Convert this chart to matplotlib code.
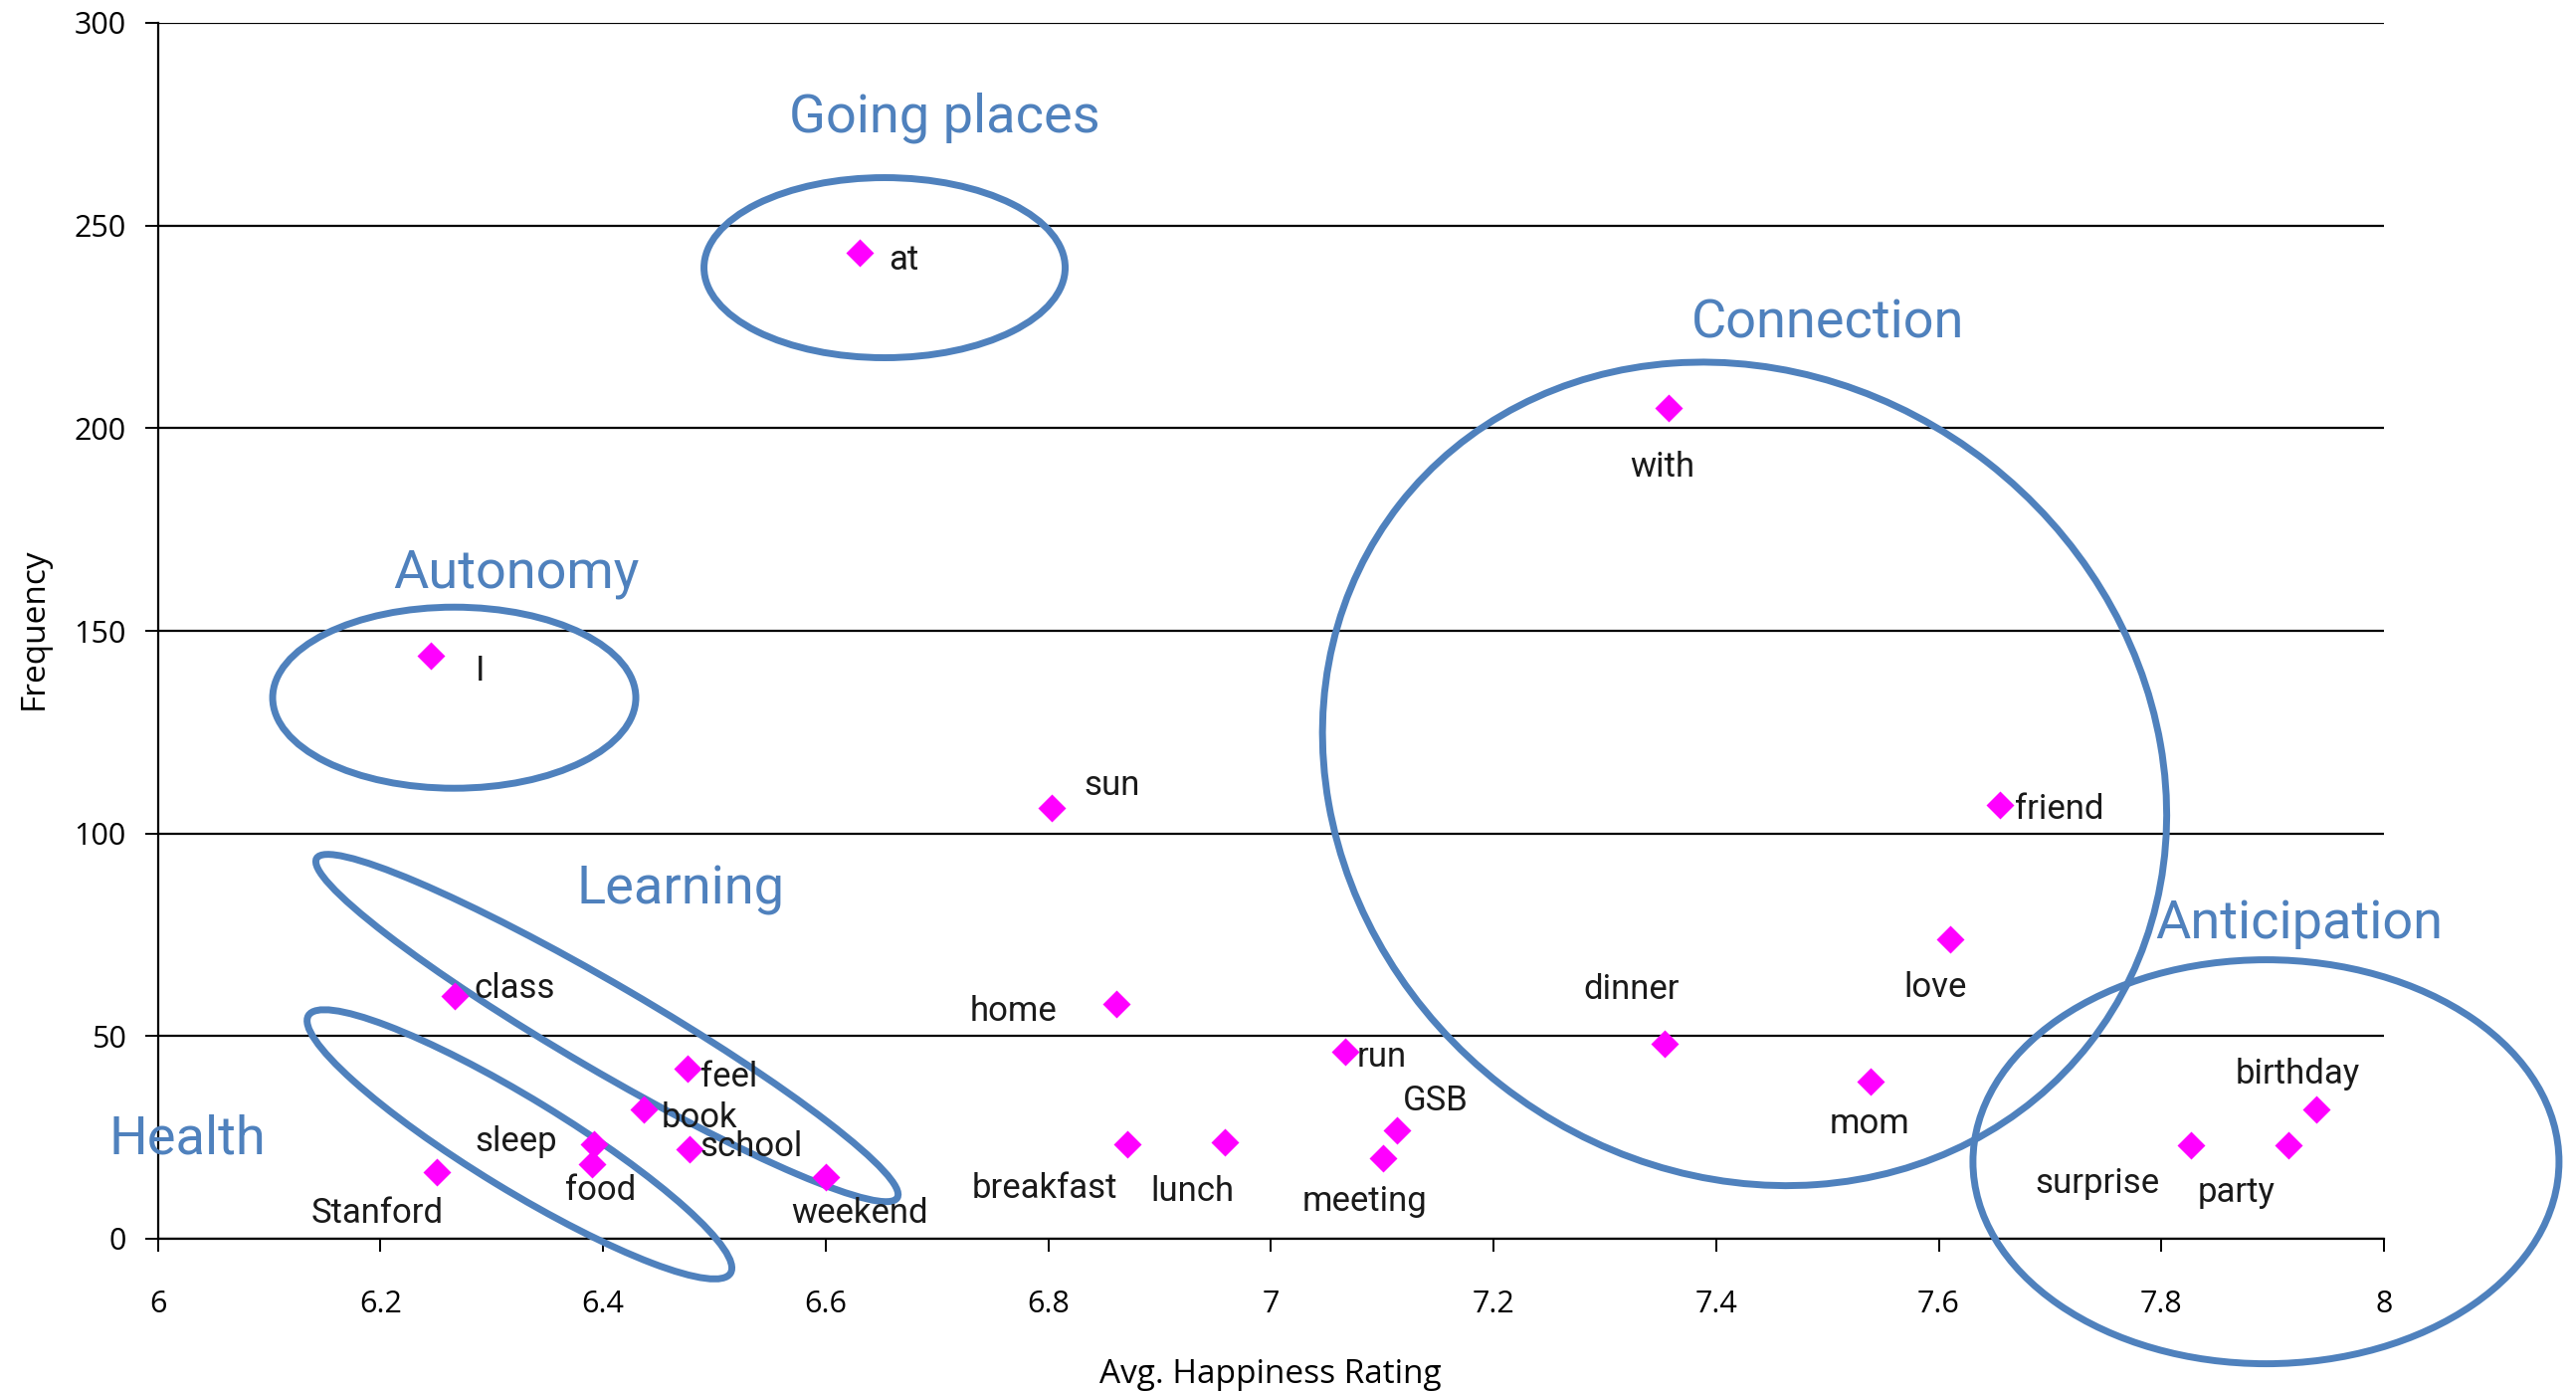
import matplotlib
matplotlib.use("Agg")
import matplotlib.pyplot as plt
import matplotlib.transforms as mtransforms
from matplotlib.patches import Ellipse

# ---------------- data ----------------
words = ["at", "I", "with", "sun", "friend", "love", "class", "home", "dinner",
         "run", "feel", "mom", "book", "birthday", "GSB", "lunch", "breakfast",
         "sleep", "surprise", "party", "school", "meeting", "food", "Stanford",
         "weekend"]
happiness = [6.631, 6.2456, 7.357, 6.803, 7.655, 7.610, 6.267, 6.861, 7.354,
             7.067, 6.476, 7.539, 6.437, 7.939, 7.113, 6.959, 6.871,
             6.392, 7.827, 7.914, 6.478, 7.101, 6.390, 6.251,
             6.600]
frequency = [243.3, 143.8, 205.1, 106.2, 107.0, 73.8, 60.0, 57.9, 48.0,
             46.2, 41.9, 38.7, 31.9, 31.8, 26.8, 23.7, 23.2,
             23.3, 23.0, 23.0, 22.0, 20.0, 18.3, 16.4,
             15.1]

themes = ["Going places", "Autonomy", "Connection", "Learning", "Health",
          "Anticipation"]

x_ticks = [6, 6.2, 6.4, 6.6, 6.8, 7, 7.2, 7.4, 7.6, 7.8, 8]
x_tick_labels = ["6", "6.2", "6.4", "6.6", "6.8", "7", "7.2", "7.4", "7.6",
                 "7.8", "8"]
y_ticks = [0, 50, 100, 150, 200, 250, 300]

# ---------------- layout / style ----------------
W, H, DPI = 2589, 1398, 100
BLUE = "#4F81BD"
MAGENTA = "#FF00FF"
NARROW = ["DejaVu Sans Condensed", "Roboto", "DejaVu Sans"]
OPEN = ["Open Sans", "DejaVu Sans"]

# label offsets in pixels (dx, dy_down, ha), baseline-anchored
label_offsets = {
    "at": (29, 17, "left"), "I": (45, 25, "left"), "with": (-6, 69, "center"),
    "sun": (33, -13, "left"), "friend": (15, 14, "left"),
    "love": (-15, 58, "center"), "class": (19, 2, "left"),
    "home": (-59, 17, "right"), "dinner": (-34, -45, "center"),
    "run": (11, 15, "left"), "feel": (13, 18, "left"),
    "mom": (-1, 52, "center"), "book": (17, 18, "left"),
    "birthday": (-19, -26, "center"), "GSB": (6, -20, "left"),
    "lunch": (-33, 59, "center"), "breakfast": (-83, 54, "center"),
    "sleep": (-37, 7, "right"), "surprise": (-95, 48, "center"),
    "party": (-52, 57, "center"), "school": (10, 7, "left"),
    "meeting": (-19, 53, "center"), "food": (9, 36, "center"),
    "Stanford": (-60, 51, "center"), "weekend": (-34, 46, "left"),
}

# theme annotation: label position (data), ellipse centre (data),
# ellipse width/height (px), angle (deg)
theme_layout = {
    "Going places": dict(lx=6.707, ly=273.0, cx=6.653, cy=239.6, w=363, h=181, a=0),
    "Autonomy": dict(lx=6.322, ly=160.8, cx=6.2664, cy=133.5, w=365, h=182, a=0),
    "Connection": dict(lx=7.500, ly=222.4, cx=7.4256, cy=114.7, w=880, h=794, a=-38),
    "Learning": dict(lx=6.470, ly=82.6, cx=6.4036, cy=52.0, w=676, h=86, a=-30.3),
    "Health": dict(lx=6.0266, ly=21.1, cx=6.325, cy=23.3, w=497, h=92, a=-31.4),
    "Anticipation": dict(lx=7.924, ly=74.2, cx=7.894, cy=19.0, w=589, h=406, a=0),
}

fig = plt.figure(figsize=(W / DPI, H / DPI), dpi=DPI)
ax = fig.add_axes([158.5 / W, 1 - 1245 / H, (2396 - 158.5) / W, (1245 - 23) / H])

ax.plot(happiness, frequency, linestyle="none", marker="D", ms=13.8,
        color=MAGENTA, mec="none", zorder=4, clip_on=False)

for wd, x, y in zip(words, happiness, frequency):
    dx, dy, ha = label_offsets[wd]
    ax.annotate(wd, (x, y), xytext=(dx, -dy), textcoords="offset pixels",
                ha=ha, va="baseline", fontsize=25, family=NARROW,
                color="#1a1a1a", zorder=5)

for name in themes:
    t = theme_layout[name]
    trans = fig.dpi_scale_trans + mtransforms.ScaledTranslation(
        t["cx"], t["cy"], ax.transData)
    e = Ellipse((0, 0), t["w"] / DPI, t["h"] / DPI, angle=t["a"],
                transform=trans, fill=False, ec=BLUE, lw=5, clip_on=False,
                zorder=3)
    ax.add_artist(e)
    ax.text(t["lx"], t["ly"], name, ha="center", va="baseline", fontsize=39,
            family=NARROW, color=BLUE, zorder=5)

ax.set_xlim(6, 8)
ax.set_ylim(0, 300)
ax.set_xticks(x_ticks)
ax.set_xticklabels(x_tick_labels)
ax.set_yticks(y_ticks)
ax.yaxis.grid(True, color="black", lw=1.6)
ax.set_axisbelow(True)
for s in ["top", "right"]:
    ax.spines[s].set_visible(False)
for s in ["left", "bottom"]:
    ax.spines[s].set_color("black")
    ax.spines[s].set_linewidth(1.6)
ax.tick_params(direction="out", length=9.4, width=1.4, color="black",
               labelsize=22)
ax.tick_params(axis="x", pad=27.5)
ax.tick_params(axis="y", pad=13.5)
for lab in ax.get_xticklabels() + ax.get_yticklabels():
    lab.set_family(OPEN)

ax.set_xlabel("Avg. Happiness Rating", fontsize=24, family=OPEN)
ax.xaxis.set_label_coords(0.5, (1245 - 1390) / 1222)
ax.xaxis.label.set_va("baseline")
ax.set_ylabel("Frequency", fontsize=24, family=OPEN)
ax.yaxis.set_label_coords((34 - 158.5) / 2237.5, (1245 - 632) / 1222)
ax.yaxis.label.set_va("center")

fig.savefig("out.png", dpi=DPI)
